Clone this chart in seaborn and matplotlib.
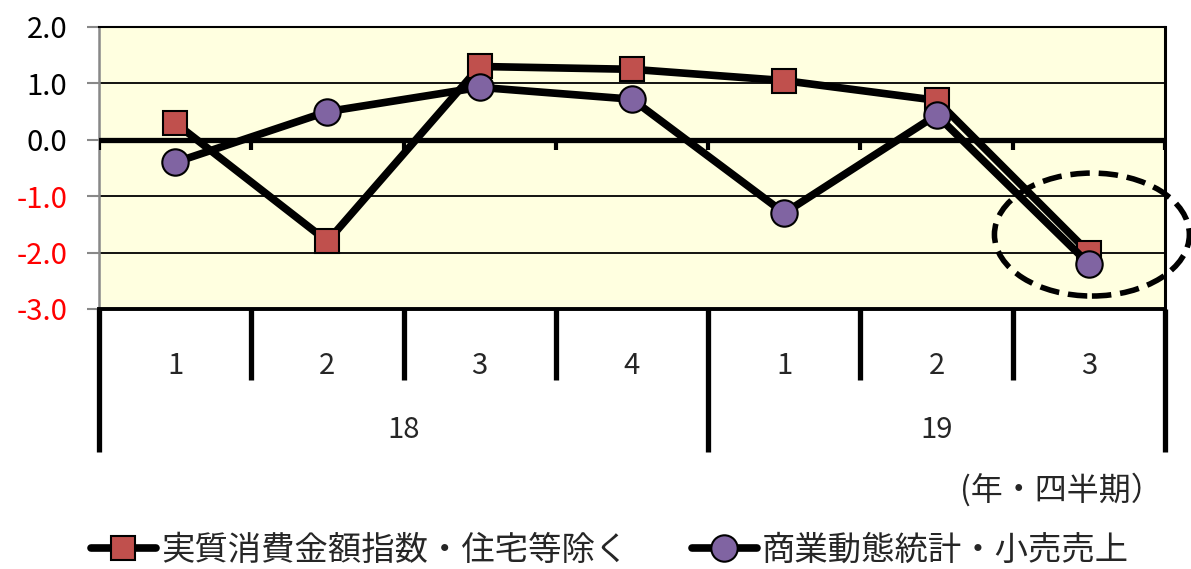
import matplotlib
matplotlib.use("Agg")
import matplotlib.pyplot as plt
import matplotlib.transforms as mtransforms
from matplotlib.patches import Ellipse
import seaborn as sns
import pandas as pd
import numpy as np

# ---- data ----
quarters = ["1", "2", "3", "4", "1", "2", "3"]
years = ["18", "19"]
year_span = [4, 3]  # number of quarters per year group
series1_name = "実質消費金額指数・住宅等除く"
series1 = [0.3, -1.8, 1.3, 1.25, 1.05, 0.7, -2.0]
series2_name = "商業動態統計・小売売上"
series2 = [-0.4, 0.5, 0.93, 0.72, -1.3, 0.44, -2.2]
yticks = [-3.0, -2.0, -1.0, 0.0, 1.0, 2.0]
xunit = "(年・四半期）"

sns.set_theme(style="white")
plt.rcParams['font.family'] = ['Noto Sans CJK JP', 'DejaVu Sans']

fig = plt.figure(figsize=(11.91, 5.69), dpi=100)
ax = fig.add_axes([99/1191, 1-309/569, (1165-99)/1191, (309-27)/569])
ax.set_facecolor('#FFFFE0')

x = np.arange(len(quarters))
df = pd.DataFrame({"x": x, "s1": series1, "s2": series2})

sns.lineplot(data=df, x="x", y="s1", ax=ax, color='black', lw=5.5,
             marker='s', markersize=17, markerfacecolor='#C0504D',
             markeredgecolor='black', markeredgewidth=1.5,
             label=series1_name, zorder=4)
sns.lineplot(data=df, x="x", y="s2", ax=ax, color='black', lw=5.5,
             marker='o', markersize=19, markerfacecolor='#8064A2',
             markeredgecolor='black', markeredgewidth=1.5,
             label=series2_name, zorder=5)

ax.set_xlim(-0.5, len(quarters) - 0.5)
ax.set_ylim(min(yticks), max(yticks))
ax.set_xlabel("")
ax.set_ylabel("")

# y axis
ax.set_yticks(yticks)
ax.set_yticklabels([f"{v:.1f}" for v in yticks], fontsize=21)
for lab, v in zip(ax.get_yticklabels(), yticks):
    lab.set_color('red' if v < 0 else 'black')
ax.tick_params(axis='y', length=9, width=1.5, color='#888888', pad=14, left=True)

# gridlines
for v in yticks:
    if v == 0:
        ax.axhline(v, color='black', lw=3.8, zorder=3)
    elif v not in (min(yticks), max(yticks)):
        ax.axhline(v, color='black', lw=1.3, zorder=1)

# spines
ax.spines['left'].set_color('#888888')
ax.spines['left'].set_linewidth(1.8)
ax.spines['top'].set_color('black')
ax.spines['top'].set_linewidth(1.5)
ax.spines['right'].set_color('black')
ax.spines['right'].set_linewidth(2.2)
ax.spines['bottom'].set_color('black')
ax.spines['bottom'].set_linewidth(2.8)

# x labels (quarters)
ax.set_xticks(x)
ax.set_xticklabels(quarters, fontsize=21)
ax.tick_params(axis='x', length=0, pad=30)

trans = mtransforms.blended_transform_factory(ax.transData, ax.transAxes)
bounds = np.arange(len(quarters) + 1) - 0.5
year_bounds = np.concatenate([[0], np.cumsum(year_span)]) - 0.5
for b in bounds:
    # small ticks on zero line
    ax.plot([b, b], [0, -0.18], color='black', lw=3, zorder=3, solid_capstyle='butt')
    bottom = -0.507 if b in year_bounds else -0.252
    ax.plot([b, b], [0, bottom], color='black', lw=3.8, transform=trans,
            clip_on=False, solid_capstyle='butt')

# year labels
for i, yr in enumerate(years):
    cx = (year_bounds[i] + year_bounds[i + 1]) / 2
    ax.text(cx, -0.43, yr, transform=trans, ha='center', va='center', fontsize=21)

# unit label
fig.text(1163/1191, 1 - 490/569, xunit, ha='right', va='center', fontsize=23)

# dashed ellipse around last point
ell = Ellipse((6.02, -1.68), 1.28, 2.18, fill=False, edgecolor='black', lw=4,
              linestyle=(0, (3.5, 1.6)), clip_on=False, zorder=6)
ax.add_patch(ell)

# legend
handles, labels = ax.get_legend_handles_labels()
ax.get_legend().remove()
fig.legend(handles, labels, loc='center', bbox_to_anchor=(0.512, 1 - 550/569),
           ncol=2, frameon=False, fontsize=24, handlelength=1.95,
           handletextpad=0.15, columnspacing=1.9, borderaxespad=0)

fig.savefig("out.png", dpi=100)
